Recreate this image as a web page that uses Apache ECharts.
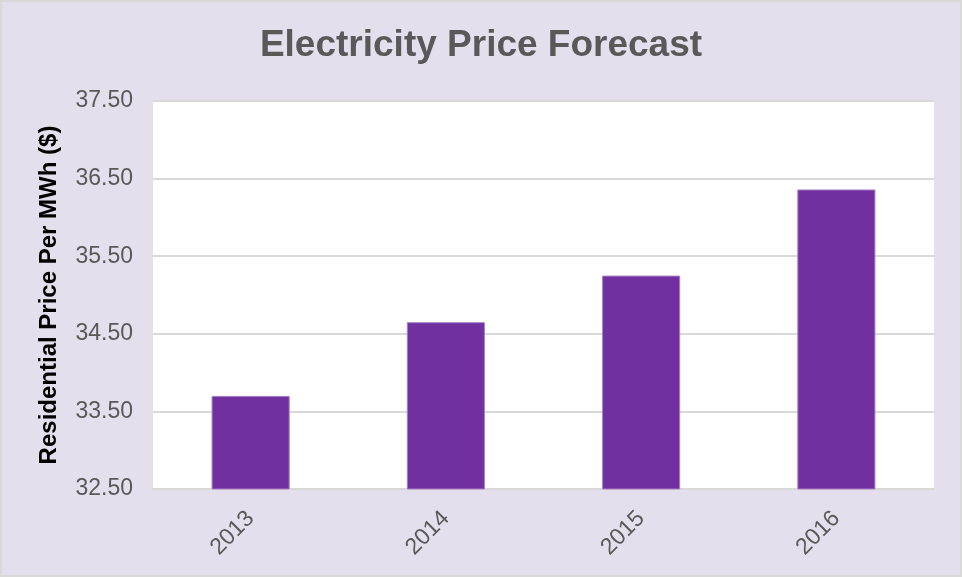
<!DOCTYPE html>
<html>
<head>
<meta charset="utf-8">
<script src="https://cdn.jsdelivr.net/npm/echarts@6/dist/echarts.min.js"></script>
<style>
    html, body { margin: 0; padding: 0; }
    #chart {
        width: 962px;
        height: 577px;
        box-sizing: border-box;
        border: 2px solid #d9d9d9;
        background: #e4dfec;
    }
</style>
</head>
<body>
<div id="chart"></div>
<script>
// data
const years = ["2013", "2014", "2015", "2016"];
const prices = [33.70, 34.65, 35.25, 36.36];
const yTicks = { min: 32.5, max: 37.5, step: 1 };

const chart = echarts.init(document.getElementById("chart"));

const option = {
    backgroundColor: "transparent",
    title: {
        text: "Electricity Price Forecast",
        left: "center",
        top: 20,
        textStyle: {
            fontFamily: "Liberation Sans, Arial",
            fontSize: 37,
            fontWeight: "bold",
            color: "#595959",
        },
    },
    grid: {
        left: 151,
        right: 26,
        top: 99,
        bottom: 86,
        backgroundColor: "#ffffff",
        show: true,
        borderWidth: 0,
    },
    xAxis: {
        type: "category",
        data: years,
        axisTick: { show: false },
        axisLine: { lineStyle: { color: "#d9d9d9", width: 2 } },
        axisLabel: {
            rotate: 45,
            margin: 26,
            fontFamily: "Liberation Sans, Arial",
            fontSize: 23,
            color: "#595959",
        },
    },
    yAxis: {
        type: "value",
        min: yTicks.min,
        max: yTicks.max,
        interval: yTicks.step,
        name: "Residential Price Per MWh ($)",
        nameLocation: "middle",
        nameGap: 92,
        nameTextStyle: {
            fontFamily: "Liberation Sans, Arial",
            fontSize: 24,
            fontWeight: "bold",
            color: "#000000",
        },
        axisLine: { show: false },
        axisTick: { show: false },
        axisLabel: {
            margin: 20,
            fontFamily: "Liberation Sans, Arial",
            fontSize: 23,
            color: "#595959",
            formatter: (v) => v.toFixed(2),
        },
        splitLine: {
            lineStyle: { color: "#d9d9d9", width: 2 },
        },
    },
    series: [
        {
            type: "bar",
            data: prices,
            barWidth: "40%",
            itemStyle: {
                color: "#7030a0",
                borderColor: "#a77fc6",
                borderWidth: 1,
            },
        },
    ],
};

chart.setOption(option);
</script>
</body>
</html>
